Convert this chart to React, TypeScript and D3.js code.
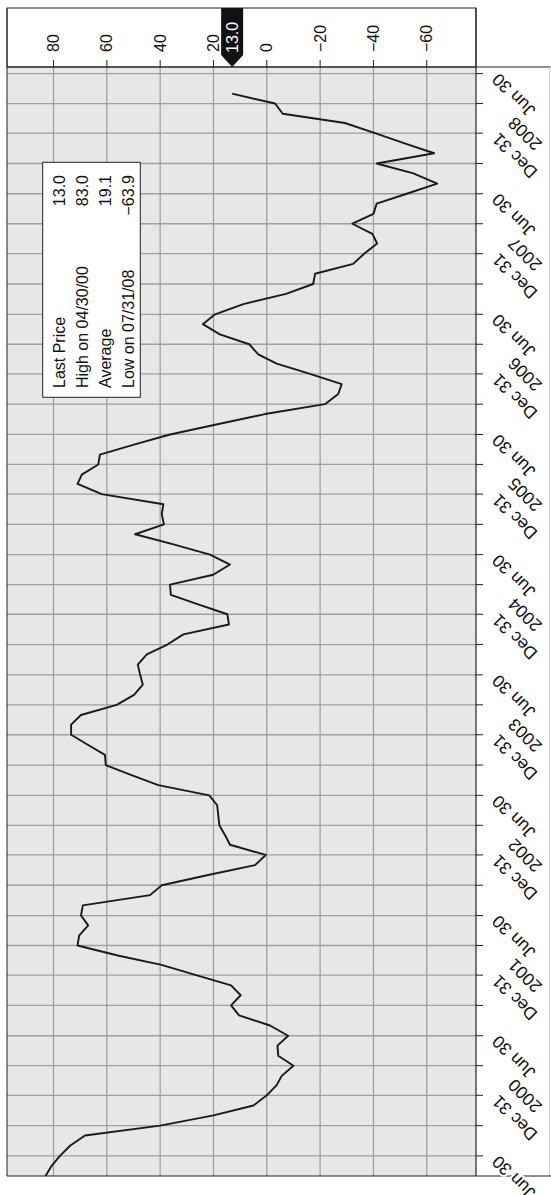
import React from "react";
import * as d3 from "d3";

// Value axis ticks (reversed: high values on the left)
const valueTicks = [80, 60, 40, 20, 0, -20, -40, -60];

// Stats box
const statLabels = ["Last Price", "High on 04/30/00", "Average", "Low on 07/31/08"];
const statValues = ["13.0", "83.0", "19.1", "\u221263.9"];
const lastPrice = 13.0;

// Monthly (month-end) values, Apr 2000 .. Apr 2009
const startYear = 2000;
const startMonth = 4; // April
const values2000 = [83.0, 80.7, 77.6, 73.8, 68.2, 40.0, 20.0, 5.0, 0.0];
const values2001 = [-3.7, -5.6, -10.0, -4.3, -4.0, -8.0, -1.2, 10.4, 13.4, 9.8, 13.4, 26.5];
const values2002 = [39.5, 55.5, 71.0, 70.4, 67.0, 69.7, 69.0, 43.8, 39.4, 22.0, 4.4, 0.4];
const values2003 = [13.8, 15.6, 17.8, 18.2, 18.6, 21.6, 40.7, 51.0, 60.4, 60.7, 67.0, 73.4];
const values2004 = [73.4, 69.7, 56.3, 49.8, 46.5, 47.5, 48.4, 45.0, 37.3, 31.3, 14.2, 14.8];
const values2005 = [26.0, 36.0, 36.3, 20.1, 13.8, 21.3, 35.0, 49.4, 38.6, 39.4, 38.8, 61.9];
const values2006 = [71.0, 69.4, 63.2, 62.6, 49.5, 36.3, 18.5, 0.7, -21.8, -26.8, -28.1, -16.2];
const values2007 = [-3.7, 3.2, 6.6, 17.6, 24.0, 19.4, 8.8, -7.2, -17.4, -18.1, -32.4, -36.5];
const values2008 = [-41.4, -39.6, -32.1, -40.0, -41.2, -52.5, -63.9, -55.0, -41.2, -62.8, -51.7, -40.6];
const values2009 = [-29.3, -6.0, -3.1, 13.0];

const allValues = [
  ...values2000, ...values2001, ...values2002, ...values2003, ...values2004,
  ...values2005, ...values2006, ...values2007, ...values2008, ...values2009,
];

const FONT = "'Liberation Sans', Arial, Helvetica, sans-serif";

function fmt(v: number) {
  return v < 0 ? "\u2212" + Math.abs(v) : String(v);
}

export default function App() {
  const W = 551, H = 1195;
  const left = 7, right = 476, top = 67, bottom = 1176, boxTop = 8;
  const gridColor = "#a0a0a0";

  const x = d3.scaleLinear().domain([97.45, -78.47]).range([left, right]);
  const y = d3
    .scaleUtc()
    .domain([new Date(Date.UTC(2000, 3, 30)), new Date(Date.UTC(2009, 6, 20))])
    .range([bottom, top]);

  const data = allValues.map((v, i) => ({
    date: new Date(Date.UTC(startYear, startMonth - 1 + i + 1, 0)),
    value: v,
  }));

  const quarterTicks: Date[] = [];
  for (let k = 0; k <= 36; k++) quarterTicks.push(new Date(Date.UTC(2000, 6 + 3 * k, 0)));

  const line = d3
    .line<{ date: Date; value: number }>()
    .x((d) => x(d.value))
    .y((d) => y(d.date));

  const tipX = x(lastPrice);
  const fs = 16;
  const dfs = 17.5;

  return (
    <svg
      width={W}
      height={H}
      style={{ position: "absolute", left: 0, top: 0, background: "#fff" }}
      fontFamily={FONT}
    >
      {/* plot background */}
      <rect x={left} y={top} width={right - left} height={bottom - top} fill="#e6e7e9" />

      {/* horizontal grid (quarters) */}
      {quarterTicks.map((d, i) => (
        <line key={"hg" + i} x1={left} x2={right} y1={y(d)} y2={y(d)} stroke={gridColor} strokeWidth={1.3} />
      ))}
      {/* vertical grid (values) */}
      {valueTicks.map((v) => (
        <line key={"vg" + v} x1={x(v)} x2={x(v)} y1={top} y2={bottom} stroke={gridColor} strokeWidth={1.3} />
      ))}

      {/* top value axis box */}
      <rect x={left} y={boxTop} width={right - left} height={top - boxTop} fill="#fff" stroke="#222" strokeWidth={1} />
      {valueTicks.map((v) => (
        <g key={"vt" + v}>
          <line x1={x(v)} x2={x(v)} y1={top - 7} y2={top} stroke="#222" strokeWidth={1} />
          <text
            transform={`translate(${x(v)},52) rotate(-90)`}
            dy="0.35em"
            fontSize={fs}
            fill="#111"
            textAnchor="start"
          >
            {fmt(v)}
          </text>
        </g>
      ))}

      {/* last price marker */}
      <polygon
        points={`${tipX - 11},${boxTop} ${tipX + 11},${boxTop} ${tipX + 11},${top - 12} ${tipX},${top} ${tipX - 11},${top - 12}`}
        fill="#111"
      />
      <text
        transform={`translate(${tipX},53) rotate(-90)`}
        dy="0.35em"
        fontSize={fs}
        fill="#fff"
        textAnchor="start"
      >
        {lastPrice.toFixed(1)}
      </text>

      {/* frame lines */}
      <line x1={left} x2={W} y1={top} y2={top} stroke="#222" strokeWidth={1} />
      <line x1={left} x2={left} y1={boxTop} y2={bottom} stroke="#222" strokeWidth={1} />
      <line x1={right} x2={right} y1={boxTop} y2={bottom} stroke="#222" strokeWidth={1.2} />
      <line x1={549.5} x2={549.5} y1={top} y2={bottom} stroke="#d0d0d0" strokeWidth={1} />
      <line x1={left} x2={W} y1={bottom} y2={bottom} stroke="#222" strokeWidth={1.2} />

      {/* time axis ticks and labels */}
      {quarterTicks.map((d, i) => {
        const yy = y(d);
        const m = d.getUTCMonth();
        const lab =
          m === 5 ? ["Jun 30"] : m === 11 ? ["Dec 31", String(d.getUTCFullYear())] : null;
        return (
          <g key={"tt" + i}>
            <line x1={right} x2={right + 7} y1={yy} y2={yy} stroke="#222" strokeWidth={1} />
            {lab && (
              <text
                transform={`translate(495,${yy + 3}) rotate(225)`}
                fontSize={dfs}
                fill="#111"
                textAnchor="end"
                stroke="#fff"
                strokeWidth={4}
                paintOrder="stroke"
              >
                {lab.map((t, j) => (
                  <tspan key={j} x={0} dy={j === 0 ? "0.35em" : "1.3em"}>
                    {t}
                  </tspan>
                ))}
              </text>
            )}
          </g>
        );
      })}

      {/* stats box */}
      <rect x={42.7} y={162.3} width={97.6} height={235} fill="#fff" stroke="#222" strokeWidth={1} />
      {statLabels.map((lab, i) => {
        const cx = 59 + i * 23;
        return (
          <g key={"st" + i}>
            <text transform={`translate(${cx},388) rotate(-90)`} dy="0.35em" fontSize={fs} fill="#111" textAnchor="start">
              {lab}
            </text>
            <text transform={`translate(${cx},175) rotate(-90)`} dy="0.35em" fontSize={fs} fill="#111" textAnchor="end">
              {statValues[i]}
            </text>
          </g>
        );
      })}

      {/* data line */}
      <path d={line(data) || ""} fill="none" stroke="#1a1a1a" strokeWidth={1.9} strokeLinejoin="round" />
    </svg>
  );
}
